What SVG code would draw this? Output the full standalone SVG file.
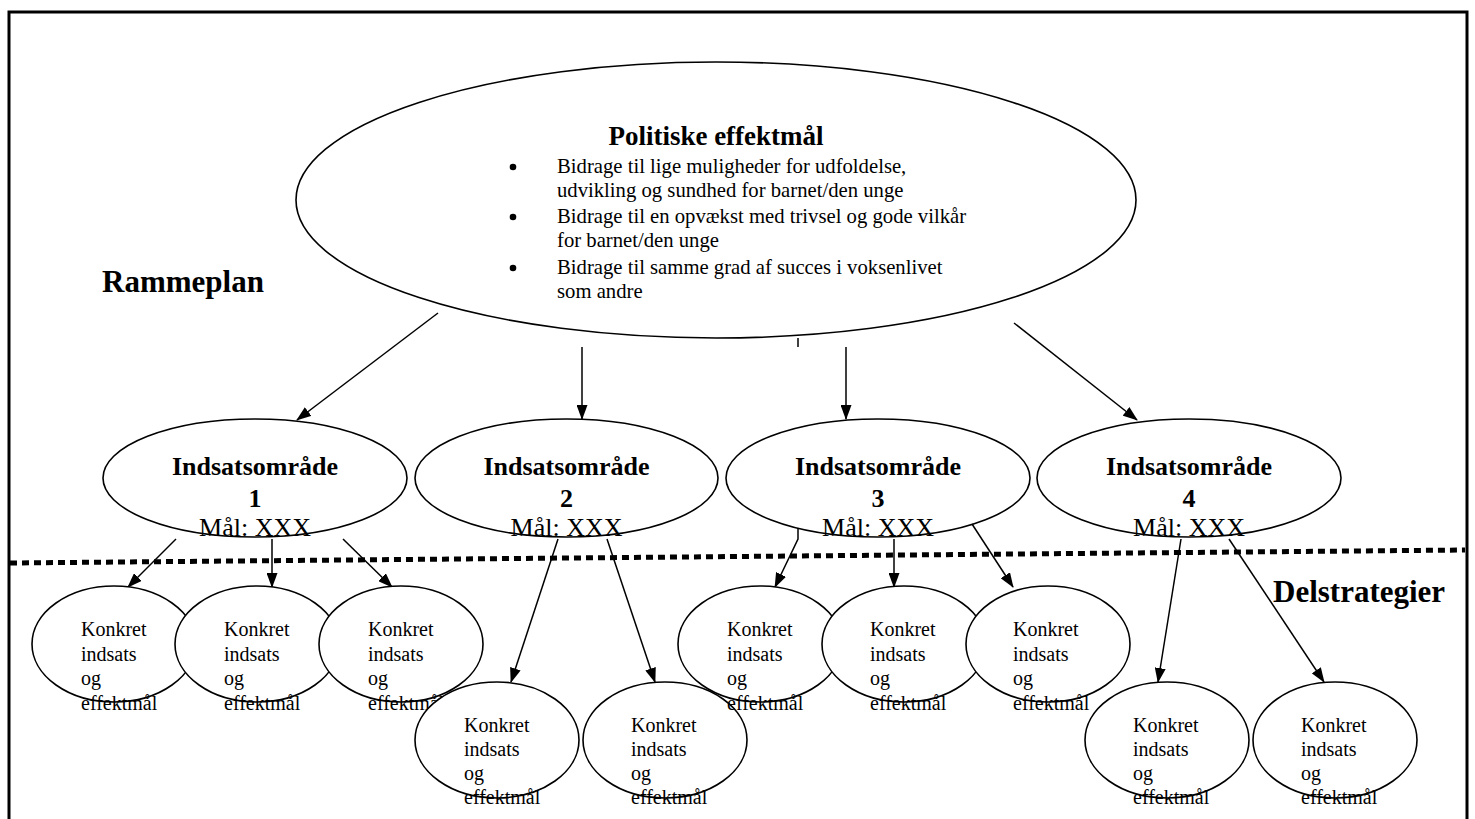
<svg xmlns="http://www.w3.org/2000/svg" width="1475" height="819" viewBox="0 0 1475 819">
<style>
.sh{fill:#fff;stroke:#000;stroke-width:1.6}
.t{font-family:"Liberation Serif","Times New Roman",serif;fill:#000}
.b{font-weight:bold}
.c{stroke:#000;stroke-width:1.5;fill:none}
.a{marker-end:url(#ah)}
.m{font-size:26px;text-anchor:middle}
.k{font-size:20px}
.p{font-size:20.7px}
</style>
<defs>
<marker id="ah" markerUnits="userSpaceOnUse" viewBox="0 0 15 11" markerWidth="15" markerHeight="11" refX="14" refY="5.5" orient="auto"><path d="M0,0 L15,5.5 L0,11 z" fill="#000"/></marker>
</defs>
<rect width="1475" height="819" fill="#fff"/>
<g id="frame">
<path d="M9,819 V12 H1467 V819" fill="none" stroke="#000" stroke-width="3"/>
<line x1="10" y1="563" x2="1465" y2="550" stroke="#000" stroke-width="5" stroke-dasharray="7 5"/>
</g>
<text class="t b" x="102" y="292" font-size="31">Rammeplan</text>
<text class="t b" x="1273" y="602" font-size="31">Delstrategier</text>

<g id="politiske">
<ellipse class="sh" cx="716" cy="200" rx="420" ry="138"/>
<text class="t b" x="716" y="145" font-size="27" text-anchor="middle">Politiske effektmål</text>
<circle cx="513" cy="167" r="3.3"/>
<circle cx="513" cy="217" r="3.3"/>
<circle cx="513" cy="268" r="3.3"/>
<text class="t p" x="557" y="173">Bidrage til lige muligheder for udfoldelse,</text>
<text class="t p" x="557" y="196.5">udvikling og sundhed for barnet/den unge</text>
<text class="t p" x="557" y="223">Bidrage til en opvækst med trivsel og gode vilkår</text>
<text class="t p" x="557" y="247">for barnet/den unge</text>
<text class="t p" x="557" y="274">Bidrage til samme grad af succes i voksenlivet</text>
<text class="t p" x="557" y="297.5">som andre</text>
</g>

<g id="connectors-top">
<path class="c a" d="M438,313 L297,420"/>
<path class="c a" d="M582,347 L582,419"/>
<path class="c" d="M798,338 V347"/>
<path class="c a" d="M846,347 L846,419"/>
<path class="c a" d="M1014,323 L1137,420"/>
</g>

<g id="omraade1">
<ellipse class="sh" cx="255" cy="478" rx="152" ry="59"/>
<text class="t b m" x="255" y="475" font-size="27">Indsatsområde</text>
<text class="t b m" x="255" y="507" font-size="27">1</text>
<text class="t m" x="255" y="536">Mål: XXX</text>
</g>
<g id="omraade2">
<ellipse class="sh" cx="566.5" cy="478" rx="151.5" ry="59"/>
<text class="t b m" x="566.5" y="475" font-size="27">Indsatsområde</text>
<text class="t b m" x="566.5" y="507" font-size="27">2</text>
<text class="t m" x="566.5" y="536">Mål: XXX</text>
</g>
<g id="omraade3">
<ellipse class="sh" cx="878" cy="478" rx="152" ry="59"/>
<text class="t b m" x="878" y="475" font-size="27">Indsatsområde</text>
<text class="t b m" x="878" y="507" font-size="27">3</text>
<text class="t m" x="878" y="536">Mål: XXX</text>
</g>
<g id="omraade4">
<ellipse class="sh" cx="1189" cy="478" rx="152" ry="59"/>
<text class="t b m" x="1189" y="475" font-size="27">Indsatsområde</text>
<text class="t b m" x="1189" y="507" font-size="27">4</text>
<text class="t m" x="1189" y="536">Mål: XXX</text>
</g>

<g id="connectors-bottom">
<path class="c a" d="M176,539 L128,587"/>
<path class="c a" d="M272,539 L272,587"/>
<path class="c a" d="M343,539 L392,587"/>
<path class="c a" d="M558,539 L511,682"/>
<path class="c a" d="M607,539 L655,682"/>
<path class="c a" d="M798,528 L798,539 L775,587"/>
<path class="c a" d="M894,539 L894,587"/>
<path class="c a" d="M972,524 L1013,587"/>
<path class="c a" d="M1181,539 L1158,682"/>
<path class="c a" d="M1229,539 L1324,682"/>
</g>

<g id="a1">
<ellipse class="sh" cx="114" cy="644" rx="82" ry="58"/>
<text class="t k" x="81" y="636">Konkret</text><text class="t k" x="81" y="660.5">indsats</text><text class="t k" x="81" y="685">og</text><text class="t k" x="81" y="709.5">effektmål</text>
</g>
<g id="a2">
<ellipse class="sh" cx="257" cy="644" rx="82" ry="58"/>
<text class="t k" x="224" y="636">Konkret</text><text class="t k" x="224" y="660.5">indsats</text><text class="t k" x="224" y="685">og</text><text class="t k" x="224" y="709.5">effektmål</text>
</g>
<g id="a3">
<ellipse class="sh" cx="401" cy="644" rx="82" ry="58"/>
<text class="t k" x="368" y="636">Konkret</text><text class="t k" x="368" y="660.5">indsats</text><text class="t k" x="368" y="685">og</text><text class="t k" x="368" y="709.5">effektmål</text>
</g>
<g id="b1">
<ellipse class="sh" cx="497" cy="740" rx="82" ry="58"/>
<text class="t k" x="464" y="732">Konkret</text><text class="t k" x="464" y="756">indsats</text><text class="t k" x="464" y="780">og</text><text class="t k" x="464" y="804">effektmål</text>
</g>
<g id="b2">
<ellipse class="sh" cx="665" cy="740" rx="82" ry="58"/>
<text class="t k" x="631" y="732">Konkret</text><text class="t k" x="631" y="756">indsats</text><text class="t k" x="631" y="780">og</text><text class="t k" x="631" y="804">effektmål</text>
</g>
<g id="c1">
<ellipse class="sh" cx="760" cy="644" rx="82" ry="58"/>
<text class="t k" x="727" y="636">Konkret</text><text class="t k" x="727" y="660.5">indsats</text><text class="t k" x="727" y="685">og</text><text class="t k" x="727" y="709.5">effektmål</text>
</g>
<g id="c2">
<ellipse class="sh" cx="904" cy="644" rx="82" ry="58"/>
<text class="t k" x="870" y="636">Konkret</text><text class="t k" x="870" y="660.5">indsats</text><text class="t k" x="870" y="685">og</text><text class="t k" x="870" y="709.5">effektmål</text>
</g>
<g id="c3">
<ellipse class="sh" cx="1048" cy="644" rx="82" ry="58"/>
<text class="t k" x="1013" y="636">Konkret</text><text class="t k" x="1013" y="660.5">indsats</text><text class="t k" x="1013" y="685">og</text><text class="t k" x="1013" y="709.5">effektmål</text>
</g>
<g id="d1">
<ellipse class="sh" cx="1167" cy="740" rx="82" ry="58"/>
<text class="t k" x="1133" y="732">Konkret</text><text class="t k" x="1133" y="756">indsats</text><text class="t k" x="1133" y="780">og</text><text class="t k" x="1133" y="804">effektmål</text>
</g>
<g id="d2">
<ellipse class="sh" cx="1335" cy="740" rx="82" ry="58"/>
<text class="t k" x="1301" y="732">Konkret</text><text class="t k" x="1301" y="756">indsats</text><text class="t k" x="1301" y="780">og</text><text class="t k" x="1301" y="804">effektmål</text>
</g>
</svg>
